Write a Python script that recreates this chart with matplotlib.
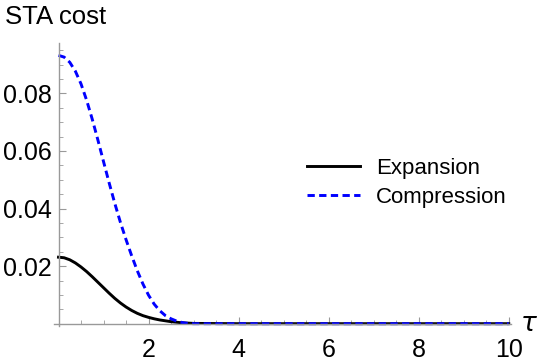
import matplotlib
matplotlib.use('Agg')
import matplotlib.pyplot as plt
from matplotlib.ticker import MultipleLocator, FixedLocator

plt.rcParams['font.family'] = ['Liberation Sans', 'DejaVu Sans']

# values
tau = [0.0, 0.125, 0.25, 0.375, 0.5, 0.625, 0.75, 0.875, 1.0, 1.125, 1.25,
       1.375, 1.5, 1.625, 1.75, 1.875, 2.0, 2.125, 2.25, 2.375, 2.5, 2.625,
       2.75, 2.875, 3.0, 4.0, 5.0, 6.0, 7.0, 8.0, 9.0, 10.0]
expansion = [0.0231, 0.0229, 0.0222, 0.0211, 0.0197, 0.0181, 0.0163, 0.0144,
             0.0125, 0.0106, 0.0088, 0.0072, 0.0058, 0.0046, 0.0036, 0.0028,
             0.0022, 0.0017, 0.0013, 0.0010, 0.0007, 0.0005, 0.0003, 0.0002,
             0.0001, 0, 0, 0, 0, 0, 0, 0]
compression = [0.0932, 0.0926, 0.0908, 0.0877, 0.0833, 0.0776, 0.0710, 0.0638,
               0.0563, 0.0489, 0.0418, 0.0352, 0.0292, 0.0236, 0.0184, 0.0138,
               0.0099, 0.0068, 0.0045, 0.0028, 0.0017, 0.0009, 0.0004, 0.0001,
               0.0, 0, 0, 0, 0, 0, 0, 0]
xticks = [2, 4, 6, 8, 10]
yticks = [0.02, 0.04, 0.06, 0.08]

fig = plt.figure(figsize=(5.42, 3.63), dpi=100)
ax = fig.add_axes([54/542, 37/363, 457/542, 283/363])

ax.plot(tau, expansion, color='black', lw=2.1, label='Expansion')
ax.plot(tau, compression, color='blue', lw=2.1, dashes=(2.5, 1.5), label='Compression')

ax.set_xlim(-0.1, 10.05)
ax.set_ylim(-0.0008, 0.0975)

for s in ['top', 'right']:
    ax.spines[s].set_visible(False)
for s in ['left', 'bottom']:
    ax.spines[s].set_position(('data', 0))
    ax.spines[s].set_color('#999999')
    ax.spines[s].set_linewidth(1)

ax.xaxis.set_major_locator(FixedLocator(xticks))
ax.xaxis.set_minor_locator(MultipleLocator(0.5))
ax.yaxis.set_major_locator(FixedLocator(yticks))
ax.yaxis.set_minor_locator(MultipleLocator(0.005))
ax.tick_params(which='both', direction='in', color='#999999', labelsize=18)
ax.tick_params(which='major', length=5)
ax.tick_params(which='minor', length=3)
ax.tick_params(axis='x', pad=10)
ax.tick_params(axis='y', pad=5)

ax.text(10.25, 0, r'$\tau$', fontsize=19, va='center', ha='left')
fig.text(5/542, 1 - 17/363, 'STA cost', fontsize=18.5, va='center', ha='left')

ax.legend(loc='upper left', bbox_to_anchor=(0.51, 0.665), frameon=False,
          fontsize=16, handlelength=2.4, handletextpad=0.7, labelspacing=0.35)

fig.savefig('out.png', dpi=100)
